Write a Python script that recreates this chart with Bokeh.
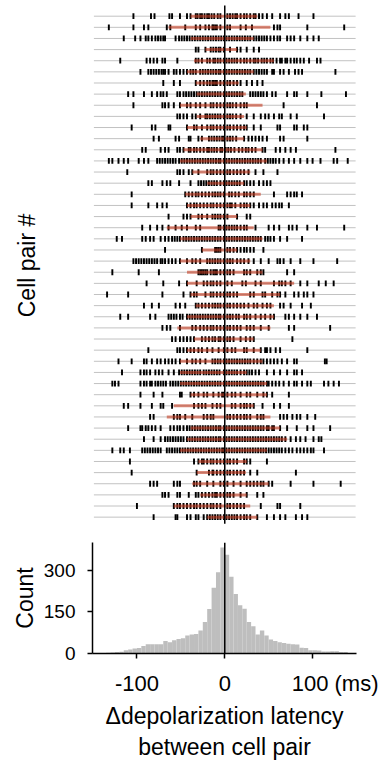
import numpy as np
from bokeh.plotting import figure
from bokeh.layouts import column
from bokeh.models import Range1d, FixedTicker, Title
from bokeh.embed import file_html
from bokeh.resources import INLINE

# ---------------- data ----------------
pair_lags = [
    [-104,-84,-80,-63,-60,-51,-43,-39,-33,-31,-28,-26,-23,-20,-18,-15,-12,-8,-5,3,6,9,12,14,18,22,25,29,33,35,39,43,48,54,63,69,73,84,101],
    [-132,-104,-92,-87,-66,-62,-45,-33,-28,-22,-18,-14,-13,-11,-9,-5,3,6,18,24,31,56,60,63,94,136],
    [-115,-102,-96,-90,-87,-83,-79,-76,-73,-70,-68,-56,-52,-49,-46,-43,-40,-37,-34,-31,-28,-25,-22,-19,-16,-13,-10,-7,-4,-1,2,5,8,11,14,17,20,23,26,29,33,36,39,42,45,48,52,56,60,63,71,75,79,86,94,101,107],
    [-33,-30,-22,-16,-13,-10,-7,-5,-1,6,14,18,25,33,39],
    [-119,-89,-85,-81,-77,-71,-68,-54,-33,-30,-26,-20,-17,-13,-11,-8,-5,-1,2,5,8,11,14,18,22,25,29,33,35,38,42,45,48,52,55,59,63,65,69,71,75,79,82,86,90,96,105,109],
    [-96,-87,-84,-81,-78,-75,-72,-70,-68,-64,-58,-55,-51,-47,-43,-39,-36,-33,-28,-25,-22,-19,-16,-13,-10,-7,-5,-1,2,5,8,11,14,17,20,23,26,29,33,36,39,42,45,48,54,56,63,67,73,80,84,88,126],
    [-70,-58,-51,-33,-28,-24,-20,-17,-14,-13,-11,-9,-5,-1,3,6,10,14,18,25,31,37,43],
    [-110,-104,-92,-83,-77,-73,-70,-66,-54,-51,-47,-44,-41,-38,-35,-32,-29,-26,-23,-20,-17,-14,-11,-8,-5,-1,2,5,8,11,14,17,20,29,32,35,38,41,44,48,54,58,71,79,82,94,110,138],
    [-104,-71,-68,-64,-58,-51,-43,-39,-33,-28,-22,-16,-13,-9,-5,-1,3,6,9,13,18,22,25,67,105],
    [-54,-51,-47,-43,-37,-33,-28,-22,-20,-17,-14,-11,-8,-5,-1,3,6,9,13,18,25,33,41,46,50,56,62,65,75,82,113],
    [-106,-83,-79,-64,-62,-43,-35,-32,-26,-20,-16,-13,-9,-5,-1,3,6,10,14,18,22,25,33,41,60,63,79,82,90,94],
    [-81,-75,-56,-52,-41,-39,-30,-26,-18,-15,-12,-9,-6,-3,-1,3,6,9,13,22,27,31,35,39,43,48,63,67,94],
    [-94,-90,-73,-68,-64,-54,-51,-47,-41,-39,-35,-32,-28,-24,-20,-18,-15,-12,-9,-5,-3,1,4,7,11,16,20,24,27,31,35,43,46,58,63,69,75,81,126],
    [-132,-128,-121,-115,-110,-98,-92,-87,-77,-74,-71,-68,-65,-62,-59,-56,-52,-49,-46,-43,-40,-37,-34,-31,-28,-25,-22,-19,-16,-13,-10,-7,-5,-1,2,5,8,11,14,17,20,23,26,29,32,35,38,41,46,49,52,55,58,62,67,73,79,86,94,100,109,124,128,140],
    [-111,-54,-51,-47,-41,-37,-30,-20,-16,-13,-9,-5,-1,3,6,10,14,18,22,27,35,44,60],
    [-87,-83,-71,-66,-62,-52,-39,-30,-27,-24,-21,-18,-15,-12,-9,-5,-1,2,5,8,11,14,17,22,25,29,33,39,44,48,52],
    [-106,-45,-41,-37,-33,-30,-26,-22,-18,-14,-11,-8,-5,-1,5,8,12,16,22,25,29,33,56,71,75,79,82,88],
    [-106,-87,-77,-71,-66,-43,-39,-35,-32,-28,-24,-20,-16,-13,-9,-5,-1,3,6,8,12,18,22,25,29,33,39,44,48,54,58,62,65,73],
    [-64,-47,-43,-39,-30,-26,-20,-14,-11,-8,-5,-1,3,14,25,29],
    [-94,-85,-77,-71,-64,-56,-49,-43,-33,-28,-7,-5,-1,2,5,8,11,14,18,22,25,35,50,56,62,73,77,82,94,105,136],
    [-123,-117,-94,-90,-85,-81,-73,-68,-64,-60,-57,-54,-51,-47,-44,-41,-38,-35,-32,-29,-26,-23,-20,-17,-14,-11,-8,-5,-1,2,5,8,11,14,17,20,23,26,29,32,35,38,41,46,49,52,56,63,71,88],
    [-68,-26,-11,-9,-7,-5,3,6,10,14,18,22,25,29,33,44],
    [-104,-101,-98,-95,-92,-89,-86,-83,-80,-77,-73,-71,-68,-64,-60,-56,-51,-43,-37,-33,-28,-20,-17,-14,-11,-8,-5,-1,3,6,9,14,18,22,27,33,41,50,60,63,67,75,86,101,128],
    [-128,-98,-75,-30,-28,-26,-24,-22,-20,-16,-13,-11,-9,-5,-1,3,6,10,22,25,29,37,41,44,71,79],
    [-89,-70,-52,-43,-32,-24,-20,-16,-13,-9,-5,3,8,20,24,35,41,56,62,65,69,75,86,94,107,115,124],
    [-134,-110,-71,-47,-39,-35,-32,-22,-16,-13,-9,-5,-1,3,6,10,14,29,33,43,46,54,60,63,69,79,84,90,94,101],
    [-92,-83,-75,-56,-51,-45,-33,-30,-26,-22,-18,-14,-11,-8,-5,-1,3,6,10,14,18,22,27,33,37,43,48,52,63,67,75,88,98],
    [-119,-110,-85,-79,-64,-61,-58,-55,-51,-48,-43,-40,-37,-34,-31,-28,-25,-22,-19,-16,-13,-10,-7,-5,-1,3,6,9,13,16,22,25,29,35,41,46,52,56,69,73,79,86,94,105],
    [-71,-66,-62,-51,-37,-33,-28,-24,-20,-16,-13,-9,-5,-1,3,6,10,14,18,25,29,33,41,50,73,79,120],
    [-60,-56,-51,-47,-43,-39,-35,-26,-22,-18,-14,-11,-7,-5,-1,3,6,10,18,24,29,33,77],
    [-87,-54,-51,-47,-43,-39,-35,-30,-26,-20,-14,-7,-1,3,8,12,22,25,33,41,46,48,52,58,63,94],
    [-121,-106,-92,-89,-83,-77,-73,-68,-64,-60,-56,-51,-43,-37,-33,-28,-22,-14,-11,-8,-5,-1,2,5,8,11,14,17,20,23,26,29,33,37,41,44,48,52,56,60,65,71,79,82,114,116],
    [-117,-96,-92,-89,-85,-79,-75,-71,-64,-58,-52,-49,-46,-43,-40,-37,-34,-31,-28,-24,-21,-18,-15,-12,-9,-6,-1,2,5,8,11,14,18,22,25,28,31,35,39,48,56,63,71,79,82,88],
    [-128,-125,-121,-96,-92,-89,-85,-83,-79,-76,-73,-70,-67,-62,-59,-56,-53,-50,-47,-44,-41,-38,-35,-32,-29,-26,-23,-20,-17,-14,-11,-8,-5,-1,2,5,8,11,14,17,20,23,26,29,32,35,38,41,44,48,50,54,58,62,67,73,79,82,88,94,98,113,118,124,130],
    [-96,-81,-71,-51,-49,-39,-35,-30,-24,-20,-13,-7,-3,-1,3,8,12,18,25,29,37,44,48,54,73],
    [-115,-110,-96,-83,-73,-70,-60,-35,-30,-26,-22,-14,-9,-5,8,12,18,22,25,29,33,43,56,63,73],
    [-85,-81,-58,-54,-51,-45,-37,-24,-20,-16,-13,3,6,10,14,18,22,25,29,37,41,44,63,67,71,77,82,86,94,103],
    [-110,-96,-94,-90,-87,-83,-79,-73,-62,-58,-54,-51,-47,-43,-40,-37,-34,-31,-28,-25,-22,-19,-16,-13,-10,-7,-5,-1,2,5,8,11,14,17,20,23,26,29,32,35,38,41,44,48,50,54,56,63,71,82,94,101,120],
    [-92,-81,-73,-68,-65,-62,-59,-56,-53,-50,-47,-43,-40,-37,-34,-31,-28,-25,-22,-19,-16,-13,-10,-7,-5,-1,2,5,8,11,14,17,20,23,26,29,32,35,38,41,44,47,50,53,56,59,62,65,69,75,81,86,92,101,107,110],
    [-128,-119,-115,-108,-94,-91,-88,-85,-82,-79,-76,-73,-66,-63,-60,-57,-54,-51,-48,-45,-42,-39,-36,-33,-30,-27,-24,-21,-18,-15,-12,-9,-6,-3,-1,2,5,8,11,14,17,20,23,26,29,32,35,38,41,44,47,50,53,56,59,62,65,69,73,77,82,86,90,94,98,101,113],
    [-108,-35,-30,-26,-24,-20,-16,-13,-9,-5,-1,3,6,10,14,22,25,29,48],
    [-106,-32,-18,-14,-13,-9,-5,-1,3,6,10,14,18,22,29,37,81],
    [-85,-81,-77,-58,-54,-51,-35,-32,-28,-20,-13,-5,-1,3,10,18,25,29,33,37,41,44,50,54,75,101,132],
    [-71,-68,-64,-54,-51,-41,-33,-30,-26,-22,-18,-14,-11,-9,-5,-1,3,6,10,18,25,37,44],
    [-100,-58,-54,-51,-47,-43,-39,-35,-32,-28,-24,-20,-16,-13,-9,-5,3,6,10,14,18,22,41,60,63,86],
    [-81,-56,-54,-43,-39,-33,-30,-24,-20,-17,-14,-11,-8,-5,-1,2,5,8,11,14,18,22,25,29,37,48,56,63,69,81,88,94],
]
red_start = [-39,-64,-39,-22,-35,-43,-33,-32,-51,-32,-43,-28,-47,-51,-37,-20,-45,-43,-39,-66,-51,-26,-51,
             -43,-43,-39,-33,-43,-54,-35,-43,-51,-51,-51,-39,-58,-66,-39,-43,-51,-30,-32,-37,-28,-58,-20]
red_end = [37,52,33,14,56,33,16,24,43,22,25,22,43,48,29,22,41,29,14,33,43,14,29,
           43,79,63,56,56,52,33,41,43,25,48,48,33,52,63,71,48,25,24,50,25,29,37]

bin_left = [-150,-145,-140,-135,-130,-125,-120,-115,-110,-105,-100,-95,-90,-85,-80,-75,-70,-65,-60,-55,
            -50,-45,-40,-35,-30,-25,-20,-15,-10,-5,0,5,10,15,20,25,30,35,40,45,
            50,55,60,65,70,75,80,85,90,95,100,105,110,115,120,125,130,135,140,145]
bin_right = [-145,-140,-135,-130,-125,-120,-115,-110,-105,-100,-95,-90,-85,-80,-75,-70,-65,-60,-55,-50,
             -45,-40,-35,-30,-25,-20,-15,-10,-5,0,5,10,15,20,25,30,35,40,45,50,
             55,60,65,70,75,80,85,90,95,100,105,110,115,120,125,130,135,140,145,150]
hist_counts = [1,1,2,3,4,5,6,12,14,18,20,27,33,33,33,33,45,40,48,52,
               55,65,68,70,83,113,160,236,292,381,355,276,214,173,161,113,98,68,83,65,
               50,45,40,38,35,33,32,21,20,12,12,11,7,7,8,8,5,5,2,1]
x_ticks = [-100, 0, 100]
NBSP = "\u00a0"
x_tick_labels = {-100: "-100", 0: "0", 100: NBSP * 8 + "100 (ms)"}
y_ticks = [0, 150, 300]

FONT = "Liberation Sans"
X_RANGE = (-150.6, 150.0)
rows = list(range(1, len(pair_lags) + 1))

# ---------------- raster ----------------
raster = figure(width=378, height=530, x_range=Range1d(*X_RANGE), y_range=Range1d(47.2, -0.41),
                output_backend="svg", toolbar_location=None,
                min_border_left=92, min_border_right=22, min_border_top=0, min_border_bottom=0)
raster.xaxis.visible = False
raster.grid.visible = False
raster.outline_line_color = None
ya = raster.yaxis[0]
ya.ticker = FixedTicker(ticks=[])
ya.axis_line_color = None
ya.major_tick_line_color = None
ya.minor_tick_line_color = None
ya.major_tick_out = 0
ya.major_tick_in = 0
ya.major_label_standoff = 0
ya.axis_label = "Cell pair #"
ya.axis_label_text_font = FONT
ya.axis_label_text_font_size = "23px"
ya.axis_label_text_font_style = "normal"
ya.axis_label_text_color = "black"
ya.axis_label_standoff = 53

raster.segment(x0=-149, y0=rows, x1=149, y1=rows, line_color="#c2c2c2", line_width=1)
tx, ty = [], []
for r, lags in zip(rows, pair_lags):
    tx.extend(lags)
    ty.extend([r] * len(lags))
raster.rect(x=tx, y=ty, width=2.2, height=0.52, fill_color="black", line_color=None)
raster.segment(x0=red_start, y0=rows, x1=red_end, y1=rows, line_color="#c43c22", line_alpha=0.6, line_width=3)
raster.segment(x0=[0], y0=[0.05], x1=[0], y1=[46.6], line_color="black", line_width=1.5)

# ---------------- histogram ----------------
hist = figure(width=378, height=232, x_range=Range1d(*X_RANGE), y_range=Range1d(0, 399),
              output_backend="svg", toolbar_location=None,
              min_border_left=92, min_border_right=22, min_border_top=12, min_border_bottom=109)
hist.grid.visible = False
hist.outline_line_color = None
hist.quad(left=bin_left, right=bin_right, bottom=0, top=hist_counts, fill_color="#bebebe", line_color=None)
hist.segment(x0=[0], y0=[0], x1=[0], y1=[399], line_color="black", line_width=1.5)

for ax in (hist.xaxis[0], hist.yaxis[0]):
    ax.axis_line_color = "black"
    ax.axis_line_width = 1.5
    ax.major_tick_line_color = "black"
    ax.major_tick_line_width = 1.5
    ax.major_tick_out = 5
    ax.major_tick_in = 0
    ax.minor_tick_line_color = None
    ax.major_label_text_font = FONT
    ax.major_label_text_color = "black"
hist.xaxis.ticker = FixedTicker(ticks=x_ticks)
hist.xaxis.major_label_overrides = x_tick_labels
hist.yaxis.ticker = FixedTicker(ticks=y_ticks)
hist.xaxis.major_label_text_font_size = "22px"
hist.yaxis.major_label_text_font_size = "19px"
hist.xaxis.major_label_standoff = 12
hist.yaxis.major_label_standoff = 12
hist.xaxis.axis_label = "\u0394depolarization latency\nbetween cell pair"
hist.xaxis.axis_label_text_font = FONT
hist.xaxis.axis_label_text_font_size = "23px"
hist.xaxis.axis_label_text_font_style = "normal"
hist.xaxis.axis_label_text_color = "black"
hist.xaxis.axis_label_standoff = 4

hist.add_layout(Title(text="Count", align="center", offset=-16, text_font=FONT, text_font_size="23px",
                      text_font_style="normal", text_color="black", standoff=6), "left")

layout = column(raster, hist, spacing=0)
open("out.html", "w").write(file_html(layout, INLINE))
